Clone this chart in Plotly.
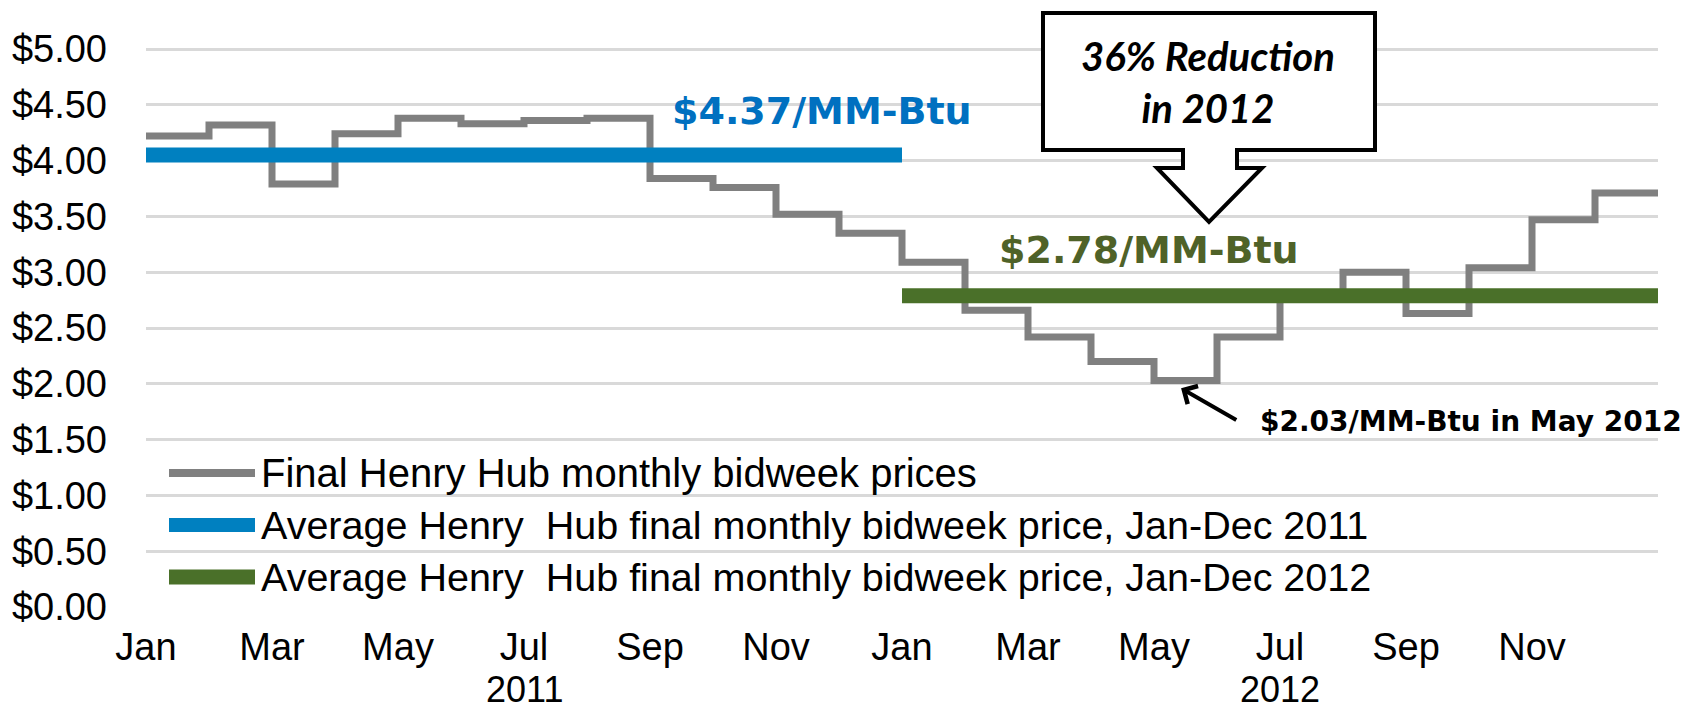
import plotly.graph_objects as go

# ---------------- data ----------------
month_labels = ["Jan", "Feb", "Mar", "Apr", "May", "Jun", "Jul", "Aug", "Sep", "Oct", "Nov", "Dec",
                "Jan", "Feb", "Mar", "Apr", "May", "Jun", "Jul", "Aug", "Sep", "Oct", "Nov", "Dec"]
years = ["2011", "2012"]
bidweek_prices = [4.22, 4.32, 3.79, 4.24, 4.38, 4.33, 4.36, 4.38, 3.84, 3.76, 3.52, 3.35,
                  3.09, 2.66, 2.42, 2.20, 2.03, 2.42, 2.77, 3.00, 2.63, 3.04, 3.47, 3.71]
avg_2011 = 4.05
avg_2012 = 2.79
y_ticks = [0.0, 0.5, 1.0, 1.5, 2.0, 2.5, 3.0, 3.5, 4.0, 4.5, 5.0]
legend_names = ["Final Henry Hub monthly bidweek prices",
                "Average Henry  Hub final monthly bidweek price, Jan-Dec 2011",
                "Average Henry  Hub final monthly bidweek price, Jan-Dec 2012"]

# ---------------- layout geometry ----------------
W, H = 1690, 711
L, R, T, B = 146, 32, 0, 104
PW, PH = W - L - R, H - T - B
Y_TOP = 5.0 * PH / 558.0

def px(x):
    return (x - L) / PW

def py(y):
    return (H - B - y) / PH

GRAY, BLUE, GREEN = "#808080", "#0080C0", "#4A7029"
ARIAL = "Liberation Sans, Arial, sans-serif"
CAL = "DejaVu Sans, sans-serif"

n = len(bidweek_prices)
x_idx = list(range(n)) + [n]
y_step = bidweek_prices + [bidweek_prices[-1]]

fig = go.Figure()
fig.add_trace(go.Scatter(x=x_idx, y=y_step, mode="lines", name=legend_names[0],
                         line=dict(color=GRAY, width=7, shape="hv"), showlegend=False))
fig.add_trace(go.Scatter(x=[0, 12], y=[avg_2011, avg_2011], mode="lines", name=legend_names[1],
                         line=dict(color=BLUE, width=15), showlegend=False))
fig.add_trace(go.Scatter(x=[12, 24], y=[avg_2012, avg_2012], mode="lines", name=legend_names[2],
                         line=dict(color=GREEN, width=15), showlegend=False))

shapes = []
annotations = []

# manual legend
leg_cols = [GRAY, BLUE, GREEN]
leg_w = [8, 14, 15]
leg_y = [473, 525, 577]
leg_size = [40, 39.5, 39.5]
for name, c, w, yy, fs in zip(legend_names, leg_cols, leg_w, leg_y, leg_size):
    shapes.append(dict(type="line", xref="paper", yref="paper", x0=px(169), x1=px(255),
                       y0=py(yy), y1=py(yy), line=dict(color=c, width=w)))
    annotations.append(dict(text=name, xref="paper", yref="paper", x=px(259), y=py(yy),
                            xanchor="left", yanchor="middle", showarrow=False,
                            font=dict(family=ARIAL, size=fs, color="black")))

# year labels
for yr, xi in zip(years, [6, 18]):
    annotations.append(dict(text=yr, xref="x", yref="paper", x=xi, y=py(711),
                            xanchor="center", yanchor="bottom", showarrow=False, borderpad=0,
                            font=dict(family=ARIAL, size=36, color="black")))

# value labels
annotations.append(dict(text="<b>$4.37/MM-Btu</b>", xref="paper", yref="paper", x=px(822), y=py(111),
                        xanchor="center", yanchor="middle", showarrow=False,
                        font=dict(family=CAL, size=38, color="#0070C0")))
annotations.append(dict(text="<b>$2.78/MM-Btu</b>", xref="paper", yref="paper", x=px(1149), y=py(250),
                        xanchor="center", yanchor="middle", showarrow=False,
                        font=dict(family=CAL, size=38, color="#4F6228")))
annotations.append(dict(text="<b>$2.03/MM-Btu in May 2012</b>", xref="paper", yref="paper", x=px(1258), y=py(421),
                        xanchor="left", yanchor="middle", showarrow=False,
                        font=dict(family=CAL, size=28, color="black")))
# arrow to May 2012 low
annotations.append(dict(text="", x=16.43, y=1.96, xref="x", yref="y",
                        ax=17.33, ay=1.667, axref="x", ayref="y", showarrow=True,
                        arrowhead=4, arrowsize=1, arrowwidth=4, arrowcolor="black", standoff=0))

# callout (down arrow box)
pts = [(1043, 13), (1375, 13), (1375, 150), (1237, 150), (1237, 168), (1262, 168), (1209, 222),
       (1157, 168), (1183, 168), (1183, 150), (1043, 150)]
path = "M" + " L".join(f"{px(a):.5f},{py(b):.5f}" for a, b in pts) + " Z"
shapes.append(dict(type="path", xref="paper", yref="paper", path=path,
                   fillcolor="white", line=dict(color="black", width=4), layer="above"))
annotations.append(dict(text="<b><i>36% Reduction<br>in 2012</i></b>", xref="paper", yref="paper",
                        x=px(1208), y=py(82), xanchor="center", yanchor="middle", showarrow=False,
                        font=dict(family="Lato, sans-serif", size=40, color="black")))

fig.update_layout(
    width=W, height=H,
    margin=dict(l=L, r=R, t=T, b=B, pad=0),
    paper_bgcolor="white", plot_bgcolor="white",
    showlegend=False,
    shapes=shapes, annotations=annotations,
    xaxis=dict(range=[0, n], tickmode="array", tickvals=list(range(0, n, 2)),
               ticktext=month_labels[0::2], showgrid=False, zeroline=False, showline=False,
               ticks="", ticklabelstandoff=14,
               tickfont=dict(family=ARIAL, size=38, color="black")),
    yaxis=dict(range=[0, Y_TOP], tickmode="array", tickvals=y_ticks,
               ticktext=[f"${v:.2f}" for v in y_ticks], showgrid=True, gridcolor="#D9D9D9",
               gridwidth=2.5, zeroline=False, showline=False, ticks="",
               ticklabelstandoff=38,
               tickfont=dict(family=ARIAL, size=38, color="black")),
)

fig.write_html("out.html", config={"displayModeBar": False},
               post_script="document.body.style.margin='0';document.body.style.overflow='hidden';")
